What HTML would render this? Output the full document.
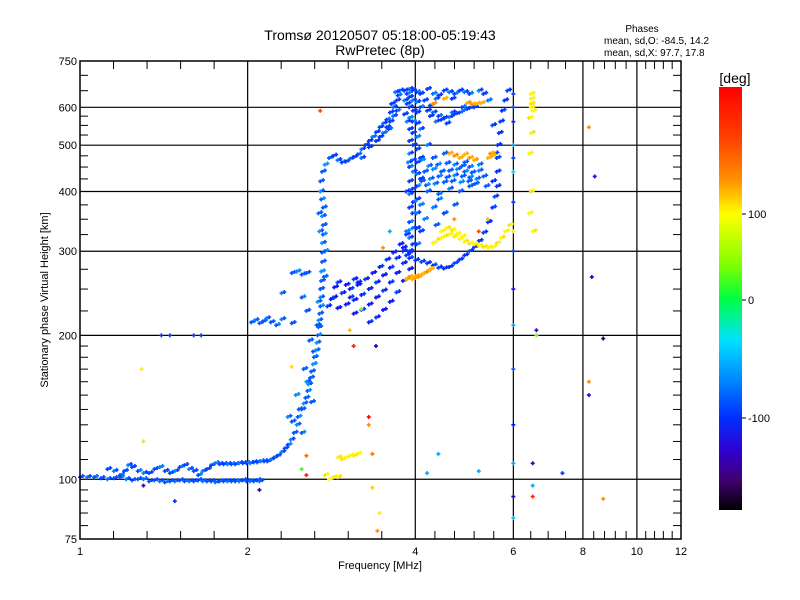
<!DOCTYPE html>
<html><head><meta charset="utf-8"><style>
body{margin:0;background:#fff;}
svg{display:block;font-family:"Liberation Sans",sans-serif;}
</style></head><body>
<svg id="chart" width="800" height="600" viewBox="0 0 800 600">
<rect x="0" y="0" width="800" height="600" fill="#fff"/>
<text x="380" y="40" font-size="14" text-anchor="middle">Tromsø 20120507 05:18:00-05:19:43</text>
<text x="380" y="55" font-size="14" text-anchor="middle">RwPretec (8p)</text>
<text x="642" y="32" font-size="10" text-anchor="middle">Phases</text>
<text x="604" y="44" font-size="10">mean, sd,O: -84.5, 14.2</text>
<text x="604" y="56" font-size="10">mean, sd,X:  97.7, 17.8</text>
<g id="grid"></g>
<g id="points"></g>
<rect x="80" y="61" width="601" height="478" fill="none" stroke="#000" stroke-width="1.5"/>
<g id="axes"></g>
<text x="380" y="569" font-size="11" text-anchor="middle">Frequency [MHz]</text>
<text transform="translate(48,300) rotate(-90)" font-size="11" text-anchor="middle">Stationary phase Virtual Height [km]</text>
<defs><linearGradient id="cbg" x1="0" y1="0" x2="0" y2="1">
<stop offset="0" stop-color="#ff0000"/><stop offset="0.12" stop-color="#ff4000"/><stop offset="0.22" stop-color="#ff9000"/><stop offset="0.30" stop-color="#ffff00"/><stop offset="0.42" stop-color="#80ff00"/><stop offset="0.50" stop-color="#00ff40"/><stop offset="0.60" stop-color="#00e0ff"/><stop offset="0.70" stop-color="#0080ff"/><stop offset="0.78" stop-color="#0030ff"/><stop offset="0.86" stop-color="#3000d0"/><stop offset="0.93" stop-color="#400070"/><stop offset="1" stop-color="#000000"/>
</linearGradient></defs>
<rect x="719" y="87" width="23" height="423" fill="url(#cbg)"/>
<text x="735" y="83" font-size="14" text-anchor="middle">[deg]</text>
<g font-size="11">
<line x1="742" y1="214" x2="746" y2="214" stroke="#000"/><text x="748" y="218">100</text>
<line x1="742" y1="300" x2="746" y2="300" stroke="#000"/><text x="748" y="304">0</text>
<line x1="742" y1="418" x2="746" y2="418" stroke="#000"/><text x="748" y="422">-100</text>
</g>
</svg>
<script>
const xTickLabels=[1,2,4,6,8,10,12];
const yTickLabels=[75,100,200,300,400,500,600,750];
const yGridValues=[100,200,300,400,500,600];
const xGridValues=[2,4,6,8,10];
const eLower=[[1.0,101],[1.03,101],[1.06,101],[1.09,100.5],[1.12,100],[1.15,100.5],[1.18,101],[1.21,100],[1.24,99.5],[1.27,100],[1.3,100],[1.33,99],[1.36,99.5],[1.39,99],[1.42,98.5],[1.45,99],[1.48,99],[1.51,99.5],[1.54,99],[1.57,99],[1.6,99],[1.63,99.5],[1.66,99],[1.69,99],[1.72,99],[1.75,98.5],[1.78,99],[1.81,99],[1.84,99],[1.87,99],[1.9,99],[1.93,99],[1.96,99.5],[1.99,99],[2.02,99],[2.05,99],[2.08,99.5],[2.1,99]];
const eUpper=[[1.12,105],[1.15,104],[1.18,102],[1.2,104],[1.22,107],[1.24,106],[1.27,104],[1.3,103],[1.33,103],[1.36,105],[1.39,106],[1.42,104],[1.45,103],[1.48,104],[1.51,106],[1.54,107],[1.57,105],[1.6,104],[1.63,102],[1.66,104],[1.69,105],[1.72,107],[1.75,108],[1.78,107.5],[1.81,107.5],[1.84,107.5],[1.87,107.5],[1.9,107.5],[1.93,108],[1.96,108],[1.99,108],[2.02,108],[2.05,108.5],[2.08,108.5],[2.11,109],[2.14,109],[2.17,109],[2.2,110],[2.23,111],[2.26,112],[2.3,114],[2.33,116],[2.36,118],[2.39,121]];
const fRise=[[2.42,125],[2.45,130],[2.46,135],[2.5,140],[2.52,144],[2.54,148],[2.56,153],[2.57,158],[2.59,163],[2.6,168],[2.62,174],[2.63,180],[2.65,186],[2.66,193],[2.67,200],[2.68,208],[2.68,215],[2.69,222],[2.7,230],[2.7,240],[2.7,250],[2.71,260],[2.71,272],[2.72,285],[2.72,298],[2.72,312],[2.73,325],[2.73,340],[2.72,355],[2.73,370],[2.71,385],[2.7,400],[2.7,420],[2.72,440],[2.75,455],[2.8,470],[2.47,140],[2.55,160],[2.62,185],[2.66,210],[2.67,235],[2.74,265],[2.75,300],[2.69,330],[2.68,360],[2.4,132],[2.44,150],[2.52,170],[2.58,195],[2.36,135],[2.5,125],[2.6,145]];
const topArc=[[2.85,475],[2.9,465],[2.95,460],[3.0,462],[3.05,468],[3.1,472],[3.15,478],[3.2,490],[3.25,500],[3.3,510],[3.35,520],[3.4,532],[3.45,545],[3.5,555],[3.55,565],[3.6,585],[3.65,600],[3.7,620],[3.72,635],[3.75,650],[3.3,495],[3.4,510],[3.5,530],[3.55,545],[3.6,560],[3.65,575],[3.7,590],[3.62,610],[3.68,645],[3.45,520],[3.58,540],[3.2,470]];
const f1Bands=[[2.85,240],[2.95,245],[3.05,250],[3.15,255],[3.25,262],[3.35,270],[3.45,278],[3.55,288],[3.65,298],[3.75,310],[3.85,325],[2.9,228],[3.0,232],[3.1,237],[3.2,243],[3.3,250],[3.4,258],[3.5,267],[3.6,277],[3.7,290],[3.8,305],[3.1,222],[3.2,226],[3.3,232],[3.4,240],[3.5,248],[3.6,258],[3.7,270],[3.8,283],[3.9,298],[3.3,213],[3.4,218],[3.5,226],[3.6,235],[3.7,246],[3.8,260],[3.9,275],[2.78,230],[2.82,238],[2.86,252],[2.9,258],[3.0,255],[3.05,240],[3.1,262],[3.15,258]];
const midBand=[[2.03,213],[2.06,215],[2.1,212],[2.13,214],[2.16,217],[2.2,213],[2.25,210],[2.3,216],[2.4,212],[2.4,270],[2.45,272],[2.5,268],[2.55,270],[2.3,245],[2.5,240],[2.55,225]];
const col4=[[3.9,300],[3.9,320],[3.9,345],[3.9,370],[3.9,395],[3.9,420],[3.9,450],[3.9,480],[3.9,510],[3.9,540],[3.9,570],[3.9,600],[3.9,630],[3.9,655],[4.02,310],[4.02,335],[4.02,360],[4.02,385],[4.02,410],[4.02,435],[4.02,460],[4.02,490],[4.02,520],[4.02,555],[4.02,585],[4.02,615],[4.02,645],[3.82,580],[3.82,620],[3.82,650],[3.96,380],[3.96,440],[3.96,500],[3.96,590],[3.85,330],[3.85,400],[3.95,310],[3.95,335],[3.95,360],[3.95,405],[3.95,465],[3.95,530],[3.95,560],[3.95,620],[3.95,650],[4.08,330],[4.08,375],[4.08,425],[4.08,470],[4.08,540],[4.08,600],[4.08,640],[3.86,560],[3.86,610],[3.86,640],[3.88,460]];
const bottomArc=[[3.8,300],[3.85,294],[3.9,290],[4.0,287],[4.1,285],[4.2,283],[4.3,280],[4.4,277],[4.5,276],[4.6,278],[4.7,283],[4.8,288],[4.9,294],[5.0,300],[5.1,306],[5.2,315],[5.3,328],[5.4,345],[5.5,370],[5.55,390],[5.6,410],[5.6,440],[5.6,470],[5.62,500],[5.65,530],[5.68,560],[5.72,590],[5.78,620],[5.85,650],[5.5,420],[5.55,480],[5.5,550]];
const midCluster=[[4.1,420],[4.25,425],[4.4,430],[4.55,428],[4.7,432],[4.85,430],[5.0,428],[5.15,425],[5.3,430],[4.15,440],[4.3,445],[4.45,440],[4.6,442],[4.75,445],[4.9,440],[5.05,438],[5.2,442],[4.2,400],[4.4,395],[4.6,405],[4.8,400],[5.0,410],[4.1,465],[4.3,470],[4.5,480],[4.2,500],[4.4,385],[4.9,460],[5.2,455],[5.35,410],[4.18,412],[4.33,415],[4.5,418],[4.65,420],[4.82,418],[4.98,420],[5.12,415],[4.22,452],[4.38,455],[4.55,458],[4.7,455],[4.85,452],[5.0,450],[4.3,370],[4.5,360],[4.7,375],[4.15,350],[4.35,340]];
const topCluster=[[4.2,590],[4.3,585],[4.4,575],[4.5,570],[4.6,572],[4.7,580],[4.8,585],[4.9,592],[5.0,598],[5.1,600],[4.3,640],[4.4,635],[4.5,650],[4.6,645],[4.7,640],[4.8,650],[4.9,645],[4.15,620],[4.25,605],[4.35,560],[4.55,555],[5.3,640],[5.4,620],[4.25,575],[4.45,565],[4.65,585],[4.85,600],[4.2,655],[4.35,625],[4.65,625],[5.0,640],[5.2,650]];
const xMode=[[4.3,312],[4.4,318],[4.5,322],[4.6,325],[4.7,322],[4.8,318],[4.9,314],[5.0,311],[5.1,310],[5.2,308],[5.3,306],[5.4,305],[5.5,306],[5.6,312],[5.7,320],[5.8,330],[5.9,340],[4.45,330],[4.55,335],[4.65,332],[4.75,326],[4.85,322],[3.1,112],[3.15,113],[3.0,111],[2.95,110],[2.9,111],[3.05,112],[2.85,101],[2.8,100],[2.9,101],[2.75,102],[6.45,640],[6.45,625],[6.45,610],[6.45,600],[6.5,590],[6.4,570],[6.45,530],[6.4,480],[6.45,400],[6.4,360],[6.5,330]];
const orangePts=[[3.85,262],[3.9,265],[3.95,262],[4.0,266],[4.05,265],[4.1,268],[4.15,270],[4.2,272],[4.25,275],[4.6,480],[4.7,475],[4.8,470],[4.9,478],[5.0,470],[5.1,465],[5.4,470],[5.45,480],[5.5,475],[4.95,612],[5.05,608],[5.15,610],[5.25,612],[4.3,610],[4.5,625]];
const col6=[[6.0,640],[6.0,600],[6.0,560],[6.0,500],[6.0,470],[6.0,440],[6.0,380],[6.0,330],[6.0,300],[6.0,250],[6.0,210],[6.0,170],[6.0,130],[6.0,108],[6.0,92],[6.0,83]];
const col6Phase=[-100,-90,-110,-60,-100,-40,-100,100,-100,-120,-60,-90,-110,-60,-140,-50];
const outliers=[[1.4,200],[1.45,200],[1.6,200],[1.65,200],[1.29,170],[1.3,120],[1.48,90],[1.3,97],[2.1,95],[2.5,105],[2.55,112],[2.55,102],[3.35,113],[3.35,96],[3.45,85],[3.42,78],[4.2,103],[4.4,113],[5.2,104],[6.5,92],[6.5,97],[6.5,108],[7.35,103],[8.7,91],[8.2,160],[8.2,150],[8.3,265],[8.4,430],[8.2,545],[8.7,197],[6.6,200],[6.6,205],[3.3,135],[3.3,130],[3.4,190],[3.1,190],[3.05,205],[3.2,227],[2.7,590],[2.4,172],[3.6,330],[3.5,305],[4.5,360],[4.7,350],[5.4,350],[5.2,330]];
const outlierPhase=[-100,-100,-100,-100,100,110,-100,-130,-140,20,170,200,160,120,100,150,-60,-60,-60,200,-60,-140,-100,150,150,-120,-130,-120,150,-170,40,-140,220,150,-140,200,130,40,180,110,-60,150,-100,150,130,180];

const X0=80,X1=681,Y0=539,Y1=61;
function xs(f){return X0+(X1-X0)*Math.log(f)/Math.log(12);}
function ys(h){return Y0-(Y0-Y1)*Math.log(h/75)/Math.log(10);}
const NS="http://www.w3.org/2000/svg";
const cmap=[[-190,[0,0,0]],[-160,[64,0,96]],[-130,[48,0,208]],[-110,[0,32,255]],[-90,[0,80,255]],[-70,[0,144,255]],[-45,[0,208,255]],[-20,[0,255,208]],[0,[0,255,64]],[40,[128,255,0]],[90,[255,255,0]],[120,[255,208,0]],[150,[255,144,0]],[190,[255,48,0]],[225,[255,0,0]]];
function col(p){
  if(p<=cmap[0][0])return "rgb(0,0,0)";
  for(let i=1;i<cmap.length;i++){if(p<=cmap[i][0]){const a=cmap[i-1],b=cmap[i],t=(p-a[0])/(b[0]-a[0]);
    return "rgb("+a[1].map((v,k)=>Math.round(v+(b[1][k]-v)*t)).join(",")+")";}}
  return "rgb(255,0,0)";
}
const grid=document.getElementById('grid');
const axes=document.getElementById('axes');
const pts=document.getElementById('points');
function line(g,x1,y1,x2,y2,w,name){const l=document.createElementNS(NS,'line');
l.setAttribute('x1',x1);l.setAttribute('y1',y1);l.setAttribute('x2',x2);l.setAttribute('y2',y2);
l.setAttribute('stroke','#000');l.setAttribute('stroke-width',w);


g.appendChild(l);}
function text(g,x,y,s,anchor,name){const t=document.createElementNS(NS,'text');t.setAttribute('x',x);t.setAttribute('y',y);
t.setAttribute('font-size','11');t.setAttribute('text-anchor',anchor);t.textContent=s;


g.appendChild(t);}
yGridValues.forEach(v=>line(grid,X0,ys(v),X1,ys(v),1.2,'y-gridline'));
xGridValues.forEach(v=>line(grid,xs(v),Y1,xs(v),Y0,1.2,'x-gridline'));
xTickLabels.forEach(v=>text(axes,xs(v),555,String(v),'middle','x-tick-label'));
yTickLabels.forEach(v=>text(axes,X0-3,ys(v)+4,String(v),'end','y-tick-label'));
const xDiv=[5,5,5,4,5,5];
for(let i=0;i<xTickLabels.length-1;i++){const a=Math.log(xTickLabels[i]),b=Math.log(xTickLabels[i+1]);
 for(let k=1;k<xDiv[i];k++){const x=xs(Math.exp(a+(b-a)*k/xDiv[i]));line(axes,x,Y0,x,Y0-8,1,'x-minor-tick');line(axes,x,Y1,x,Y1+8,1,'x-minor-tick');}}
const yMinor=[80,85,90,95,110,120,130,140,150,160,170,180,190,225,250,275,325,350,375,425,450,475,525,550,575,650,700];
yMinor.forEach(v=>{line(axes,X0,ys(v),X0+8,ys(v),1,'y-minor-tick');line(axes,X1,ys(v),X1-8,ys(v),1,'y-minor-tick');});

function plus(f,h,p){const x=xs(f),y=ys(h);const e=document.createElementNS(NS,'path');
e.setAttribute('d','M'+(x-2)+' '+y+'h4M'+x+' '+(y-2)+'v4');
e.setAttribute('stroke',col(p));e.setAttribute('stroke-width','1.6');


pts.appendChild(e);}
function series(arr,p,alt){arr.forEach((d,i)=>{plus(d[0],d[1],(alt&&i%3===1)?alt:p);plus(d[0]*1.012,d[1]*1.006,(alt&&i%4===2)?alt:p);});}
series(eLower,-92,-80);
series(eUpper,-95,-75);
series(fRise,-88,-70);
series(topArc,-100,-80);
series(f1Bands,-115,-100);
series(midBand,-90,-75);
series(col4,-100,-75);
series(bottomArc,-105,-95);
series(midCluster,-88,-72);
series(topCluster,-100,-78);
series(xMode,95,110);
series(orangePts,135,150);
col6.forEach((d,i)=>plus(d[0],d[1],col6Phase[i]));
outliers.forEach((d,i)=>plus(d[0],d[1],outlierPhase[i]));
</script>
</body></html>
